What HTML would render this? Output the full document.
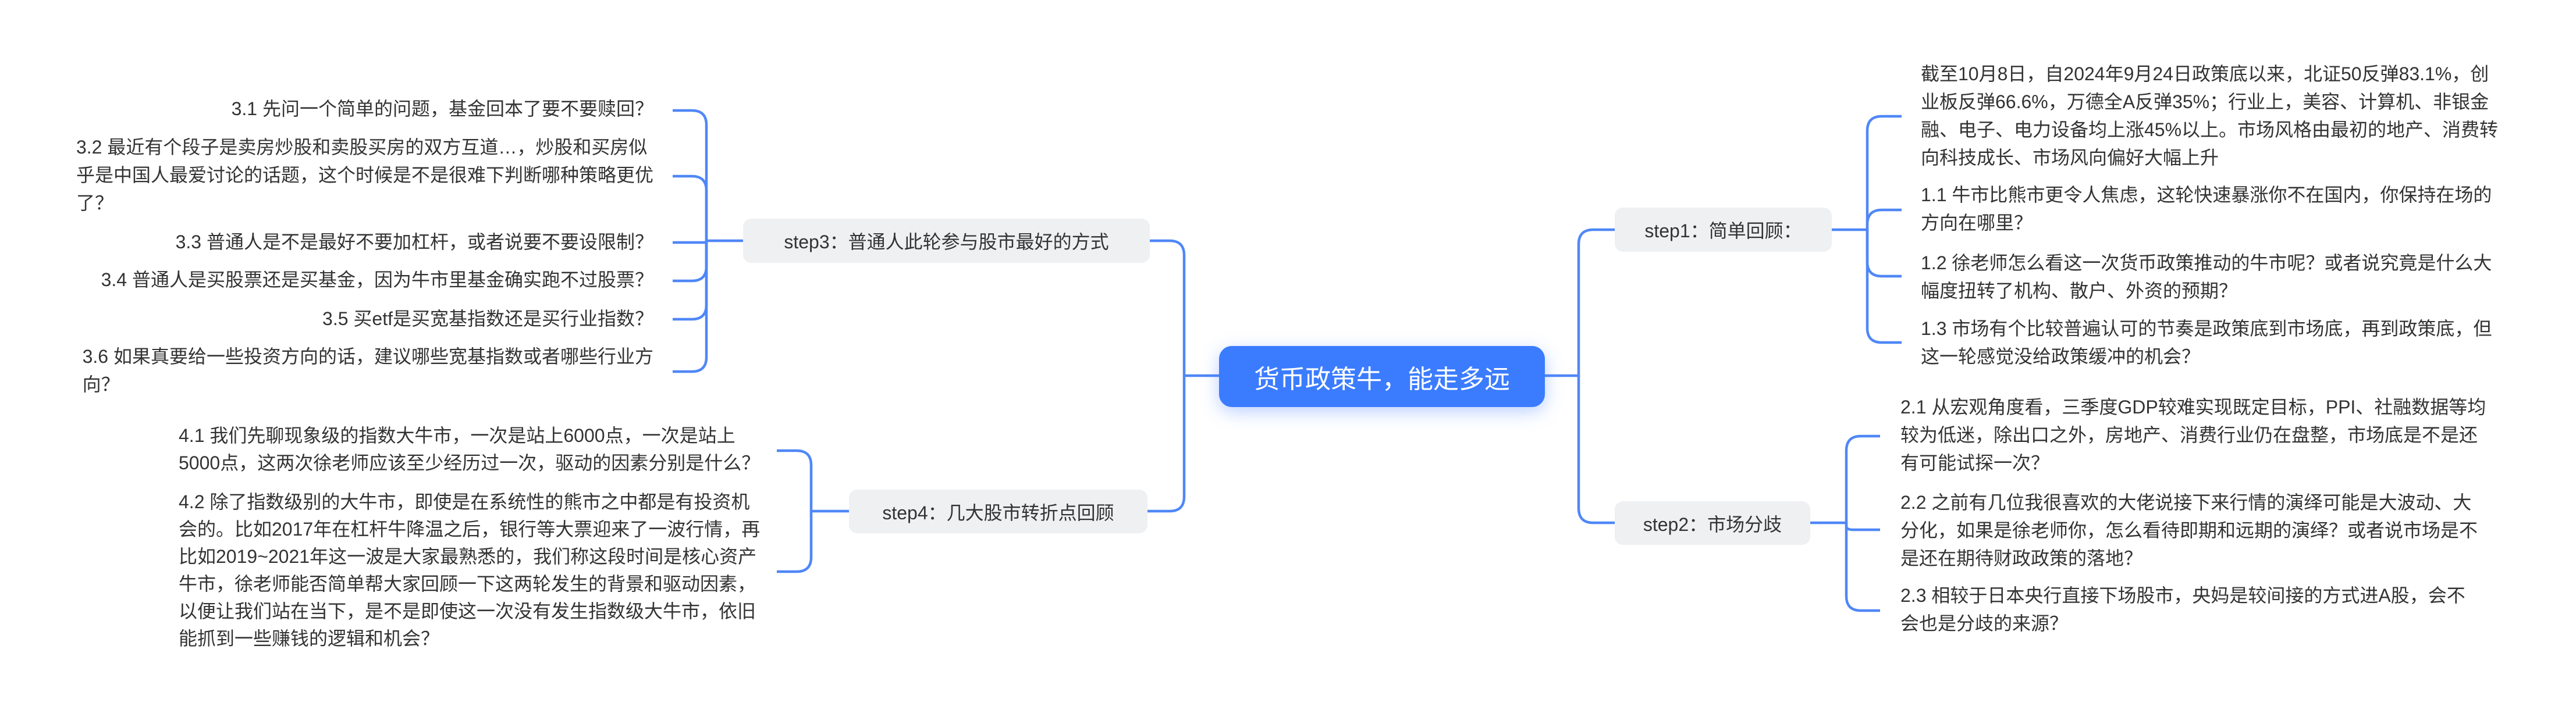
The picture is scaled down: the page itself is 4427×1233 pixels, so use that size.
<!DOCTYPE html>
<html><head><meta charset="utf-8">
<style>
html,body{margin:0;padding:0;}
body{width:4427px;height:1233px;position:relative;background:#fff;overflow:hidden;
font-family:"Liberation Sans","Noto Sans CJK SC",sans-serif;color:#333;}
.t{position:absolute;font-size:32px;line-height:48px;white-space:nowrap;text-align:left;}
.r{position:absolute;text-align:left;font-size:32px;line-height:48px;white-space:nowrap;}
.box{position:absolute;background:#eff0f2;border-radius:14px;font-size:32px;color:#333;
display:flex;align-items:center;justify-content:center;white-space:nowrap;}
.root{position:absolute;left:2095px;top:595px;width:560px;height:105px;background:#3b7cff;border-radius:22px;
color:#fff;font-size:44px;display:flex;align-items:center;justify-content:center;
box-shadow:0 8px 30px rgba(59,124,255,0.35);}
svg{position:absolute;left:0;top:0;}
</style></head><body>
<svg width="4427" height="1233" viewBox="0 0 4427 1233" fill="none" stroke="#4f87f7" stroke-width="4.5">
<path d="M2655 646 H2713 V420 Q2713 395 2738 395 H2775"/>
<path d="M2713 646 V874 Q2713 899 2738 899 H2775"/>
<path d="M2095 646 H2035 V439 Q2035 414 2010 414 H1972"/>
<path d="M2035 646 V854 Q2035 879 2010 879 H1972"/>
<path d="M3148 395 H3209 V225 Q3209 200 3234 200 H3268"/>
<path d="M3209 395 V386 Q3209 361 3234 361 H3268"/>
<path d="M3209 395 V450 Q3209 475 3234 475 H3268"/>
<path d="M3209 395 V564 Q3209 589 3234 589 H3268"/>
<path d="M3111 899 H3173 V775 Q3173 750 3198 750 H3231"/>
<path d="M3173 899 V905 Q3173 911 3185 911 H3231"/>
<path d="M3173 899 V1025 Q3173 1050 3198 1050 H3231"/>
<path d="M1277 414 H1214 V215 Q1214 190 1189 190 H1156"/>
<path d="M1214 414 V328 Q1214 303 1189 303 H1156"/>
<path d="M1214 414 V417 H1156"/>
<path d="M1214 414 V458 Q1214 483 1189 483 H1156"/>
<path d="M1214 414 V524 Q1214 549 1189 549 H1156"/>
<path d="M1214 414 V614 Q1214 639 1189 639 H1156"/>
<path d="M1459 879 H1394 V800 Q1394 775 1369 775 H1335"/>
<path d="M1394 879 V958 Q1394 983 1369 983 H1335"/>
</svg>

<div class="root">货币政策牛，能走多远</div>

<div class="box" style="left:2775px;top:357px;width:373px;height:76px;">step1：简单回顾：</div>
<div class="box" style="left:2775px;top:862px;width:336px;height:75px;">step2：市场分歧</div>
<div class="box" style="left:1277px;top:376px;width:699px;height:76px;">step3：普通人此轮参与股市最好的方式</div>
<div class="box" style="left:1459px;top:842px;width:513px;height:75px;">step4：几大股市转折点回顾</div>

<div class="t" style="left:3301px;top:103px;">截至10月8日，自2024年9月24日政策底以来，北证50反弹83.1%，创<br>业板反弹66.6%，万德全A反弹35%；行业上，美容、计算机、非银金<br>融、电子、电力设备均上涨45%以上。市场风格由最初的地产、消费转<br>向科技成长、市场风向偏好大幅上升</div>
<div class="t" style="left:3301px;top:311px;">1.1 牛市比熊市更令人焦虑，这轮快速暴涨你不在国内，你保持在场的<br>方向在哪里？</div>
<div class="t" style="left:3301px;top:428px;">1.2 徐老师怎么看这一次货币政策推动的牛市呢？或者说究竟是什么大<br>幅度扭转了机构、散户、外资的预期？</div>
<div class="t" style="left:3301px;top:541px;">1.3 市场有个比较普遍认可的节奏是政策底到市场底，再到政策底，但<br>这一轮感觉没给政策缓冲的机会？</div>

<div class="t" style="left:3266px;top:676px;">2.1 从宏观角度看，三季度GDP较难实现既定目标，PPI、社融数据等均<br>较为低迷，除出口之外，房地产、消费行业仍在盘整，市场底是不是还<br>有可能试探一次？</div>
<div class="t" style="left:3266px;top:840px;">2.2 之前有几位我很喜欢的大佬说接下来行情的演绎可能是大波动、大<br>分化，如果是徐老师你，怎么看待即期和远期的演绎？或者说市场是不<br>是还在期待财政政策的落地？</div>
<div class="t" style="left:3266px;top:1000px;">2.3 相较于日本央行直接下场股市，央妈是较间接的方式进A股，会不<br>会也是分歧的来源？</div>

<div class="r" style="right:3304px;top:163px;">3.1 先问一个简单的问题，基金回本了要不要赎回？</div>
<div class="r" style="right:3304px;top:229px;">3.2 最近有个段子是卖房炒股和卖股买房的双方互道…，炒股和买房似<br>乎是中国人最爱讨论的话题，这个时候是不是很难下判断哪种策略更优<br>了？</div>
<div class="r" style="right:3304px;top:392px;">3.3 普通人是不是最好不要加杠杆，或者说要不要设限制？</div>
<div class="r" style="right:3304px;top:457px;">3.4 普通人是买股票还是买基金，因为牛市里基金确实跑不过股票？</div>
<div class="r" style="right:3304px;top:524px;">3.5 买etf是买宽基指数还是买行业指数？</div>
<div class="r" style="right:3304px;top:589px;">3.6 如果真要给一些投资方向的话，建议哪些宽基指数或者哪些行业方<br>向？</div>

<div class="t" style="left:307px;top:726px;line-height:47px;">4.1 我们先聊现象级的指数大牛市，一次是站上6000点，一次是站上<br>5000点，这两次徐老师应该至少经历过一次，驱动的因素分别是什么？</div>
<div class="t" style="left:307px;top:840px;line-height:47px;">4.2 除了指数级别的大牛市，即使是在系统性的熊市之中都是有投资机<br>会的。比如2017年在杠杆牛降温之后，银行等大票迎来了一波行情，再<br>比如2019~2021年这一波是大家最熟悉的，我们称这段时间是核心资产<br>牛市，徐老师能否简单帮大家回顾一下这两轮发生的背景和驱动因素，<br>以便让我们站在当下，是不是即使这一次没有发生指数级大牛市，依旧<br>能抓到一些赚钱的逻辑和机会？</div>
</body></html>
